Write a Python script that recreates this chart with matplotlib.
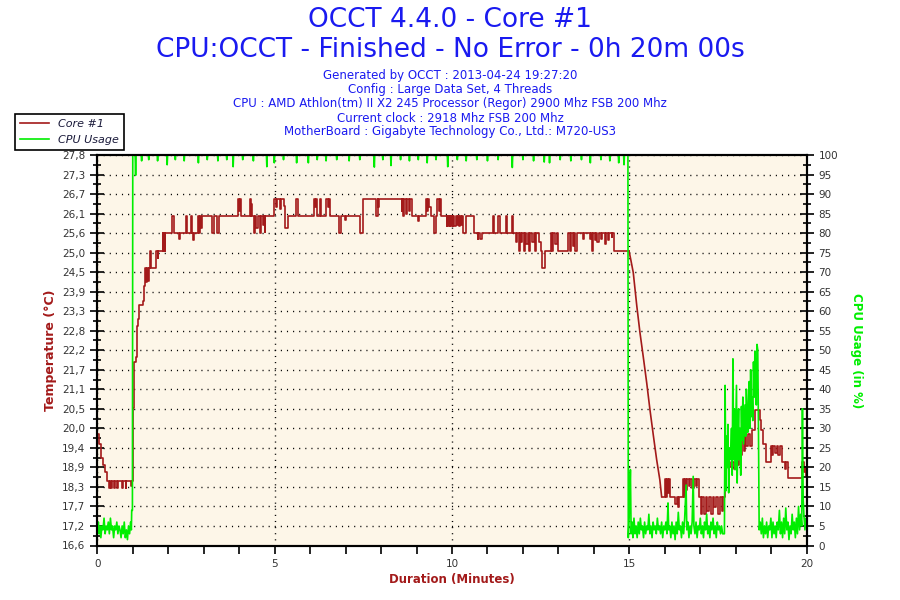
import matplotlib
matplotlib.use("Agg")
import matplotlib.pyplot as plt
from matplotlib.ticker import MultipleLocator, AutoMinorLocator
from matplotlib.lines import Line2D

### data (time in minutes)
# temperature while idle and under load (sensor steps)
temp_t = [0.00, 0.04, 0.10, 0.16, 0.22, 0.27, 0.33, 0.35, 0.40, 0.42, 0.47, 0.49, 0.55, 0.57,
          0.64, 0.70, 0.72, 0.80, 0.82, 0.90, 0.95, 0.97,
          1.01, 1.04, 1.08, 1.12, 1.15, 1.18, 1.28, 1.31, 1.35, 1.38, 1.40, 1.42, 1.45, 1.49, 1.52,
          1.66, 1.70, 1.72, 1.84, 1.86, 1.89, 1.90, 1.92, 2.10, 2.15, 2.30, 2.32, 2.49, 2.53,
          2.63, 2.66, 2.70, 2.72, 2.85, 2.88, 2.90, 2.93, 2.96, 3.23, 3.28, 3.38, 3.42,
          3.98, 4.00, 4.02, 4.06, 4.30, 4.32, 4.34, 4.37, 4.42, 4.45, 4.48, 4.52, 4.58, 4.62,
          4.66, 4.70, 4.72, 4.74, 4.98, 5.05, 5.08, 5.15, 5.18, 5.25, 5.30, 5.38, 5.60, 5.66,
          6.11, 6.14, 6.17, 6.20, 6.28, 6.32, 6.45, 6.50, 6.53, 6.56, 6.81, 6.88, 6.98, 7.00,
          7.41, 7.48, 7.86, 7.90, 7.92, 7.94, 8.58, 8.60, 8.63, 8.66, 8.70, 8.74, 8.78, 8.82,
          8.86, 9.05, 9.07, 9.26, 9.29, 9.32, 9.36, 9.40, 9.50, 9.55, 9.58, 9.62, 9.66, 9.70,
          9.85, 9.87, 9.89, 9.91, 9.93, 9.95, 9.97, 10.00, 10.02, 10.04, 10.07, 10.10, 10.13,
          10.16, 10.19, 10.22, 10.26, 10.29, 10.32, 10.40, 10.63, 10.72, 10.74, 10.80, 10.84,
          11.17, 11.19, 11.31, 11.34, 11.52, 11.55, 11.68, 11.72, 11.80, 11.84, 11.89, 11.92,
          11.95, 11.98, 12.02, 12.05, 12.10, 12.14, 12.18, 12.21, 12.26, 12.30, 12.34, 12.38,
          12.45, 12.50, 12.53, 12.63, 12.79, 12.83, 12.86, 12.90, 12.95, 13.00, 13.28, 13.32,
          13.36, 13.40, 13.44, 13.48, 13.52, 13.70, 13.73, 13.88, 13.91, 13.94, 13.98, 14.02,
          14.05, 14.10, 14.14, 14.20, 14.24, 14.30, 14.34, 14.40, 14.44, 14.50, 14.52, 14.57,
          14.99]
temp_v = [19.80, 19.50, 19.10, 18.90, 18.70, 18.45, 18.25, 18.45, 18.25, 18.45, 18.25, 18.45, 18.25, 18.45,
          18.45, 18.25, 18.45, 18.25, 18.45, 18.45, 18.30, 18.45,
          20.55, 21.85, 22.00, 22.90, 23.10, 23.50, 23.60, 24.05, 24.55, 24.15, 24.55, 24.20, 24.55, 25.05, 24.55,
          25.05, 24.85, 25.05, 25.55, 25.05, 25.55, 25.05, 25.55, 26.05, 25.55, 25.40, 25.55, 26.05, 25.55,
          26.05, 25.55, 25.35, 25.55, 26.05, 25.55, 26.05, 25.70, 26.05, 25.55, 26.05, 25.55, 26.05,
          26.55, 26.20, 26.55, 26.05, 26.55, 26.05, 26.40, 26.05, 25.55, 26.05, 25.70, 26.05, 25.55, 26.05,
          25.80, 26.05, 25.60, 26.05, 26.55, 26.30, 26.55, 26.25, 26.55, 26.35, 25.70, 26.05, 26.55, 26.05,
          26.55, 26.30, 26.55, 26.05, 26.55, 26.05, 26.55, 26.30, 26.55, 26.05, 25.55, 26.05, 25.95, 26.05,
          25.55, 26.55, 26.05, 26.55, 26.30, 26.55, 26.20, 26.55, 26.05, 26.55, 26.10, 26.55, 26.20, 26.55,
          26.05, 25.90, 26.05, 26.55, 26.20, 26.55, 26.30, 26.05, 25.55, 26.05, 26.55, 26.20, 26.55, 26.05,
          25.75, 26.05, 25.75, 26.05, 25.75, 26.05, 25.75, 26.05, 25.75, 26.05, 25.75, 26.05, 25.80,
          26.05, 25.75, 26.05, 25.80, 26.05, 25.55, 26.05, 25.55, 25.40, 25.55, 25.40, 25.55,
          26.05, 25.55, 26.05, 25.55, 26.05, 25.55, 26.05, 25.55, 25.30, 25.55, 25.05, 25.55,
          25.30, 25.55, 25.05, 25.55, 25.25, 25.55, 25.05, 25.55, 25.30, 25.55, 25.05, 25.55,
          25.30, 25.05, 24.55, 25.05, 25.55, 25.05, 25.55, 25.25, 25.55, 25.05, 25.55, 25.05,
          25.55, 25.20, 25.55, 25.05, 25.55, 25.40, 25.55, 25.40, 25.55, 25.05, 25.55, 25.35,
          25.55, 25.30, 25.55, 25.40, 25.55, 25.25, 25.55, 25.35, 25.55, 25.45, 25.55, 25.05,
          25.05]

# cooling down after the test stops
drop_t = [14.99, 15.04, 15.11, 15.21, 15.30, 15.39, 15.49, 15.58, 15.68, 15.77, 15.86, 15.91]
drop_v = [25.05, 24.80, 24.43, 23.47, 22.70, 22.03, 21.26, 20.50, 19.73, 19.06, 18.48, 18.00]

# idle again (sensor steps)
tail_t = [15.91, 16.00, 16.03, 16.06, 16.09, 16.12, 16.16, 16.30, 16.33, 16.37, 16.40, 16.50, 16.54,
          16.57, 16.60, 16.63, 16.68, 16.72, 16.78, 16.82, 16.88, 16.92, 16.97, 17.02, 17.05,
          17.10, 17.15, 17.20, 17.25, 17.30, 17.36, 17.40, 17.45, 17.50, 17.55, 17.60, 17.65,
          17.71, 17.76, 17.85, 17.90, 17.95, 18.00, 18.05, 18.10, 18.14, 18.18, 18.22, 18.26,
          18.30, 18.35, 18.40, 18.45, 18.48, 18.54, 18.68, 18.72, 18.78, 18.84, 18.98, 19.02,
          19.06, 19.10, 19.15, 19.20, 19.25, 19.31, 19.38, 19.42, 19.48, 19.86, 19.92, 19.95,
          19.98, 20.00]
tail_v = [18.00, 18.50, 18.00, 18.50, 18.10, 18.50, 18.00, 17.80, 18.00, 17.70, 18.00, 18.50, 18.00,
          18.50, 18.20, 18.50, 18.30, 18.50, 18.25, 18.50, 18.30, 18.50, 18.00, 17.50, 18.00,
          17.50, 18.00, 17.60, 18.00, 17.50, 18.00, 17.70, 18.00, 17.50, 18.00, 17.60, 18.00,
          19.45, 19.00, 18.85, 19.00, 18.80, 19.00, 18.90, 19.45, 19.20, 19.70, 19.30, 19.80,
          19.45, 19.80, 19.45, 19.90, 19.90, 20.50, 20.20, 19.90, 19.50, 19.00, 19.45, 19.20,
          19.45, 19.25, 19.45, 19.20, 19.45, 19.00, 18.80, 19.00, 18.55, 19.00, 18.70, 18.85,
          18.60, 18.60]

# CPU usage, idle start and end (percent)
cpu_start_t = [0.00, 0.03, 0.05, 0.08, 0.10, 0.13, 0.16, 0.19, 0.22, 0.25, 0.28, 0.31, 0.34, 0.37,
               0.40, 0.43, 0.46, 0.49, 0.52, 0.55, 0.58, 0.61, 0.64, 0.67, 0.70, 0.73, 0.76, 0.79,
               0.82, 0.85, 0.88, 0.91, 0.94, 0.96, 0.97, 0.99]
cpu_start_v = [4, 6, 3, 5, 2, 5, 4, 7, 3, 5, 4, 6, 3, 7, 4, 5, 2, 5, 4, 6, 3, 5, 4, 2, 5, 3, 6, 2,
               4, 1.5, 5, 3, 6, 4, 9, 9]

# load phase: 100 % with short dips
dip_t = [1.08, 1.25, 1.45, 1.70, 1.97, 2.20, 2.45, 2.85, 3.10, 3.40, 3.65, 3.83, 4.10, 4.40,
         4.78, 4.99, 5.25, 5.62, 5.95, 6.20, 6.45, 6.75, 7.10, 7.40, 7.81, 8.05, 8.28, 8.55,
         8.80, 9.05, 9.30, 9.55, 9.88, 10.15, 10.40, 10.70, 11.00, 11.30, 11.70, 12.00, 12.30,
         12.60, 12.75, 13.05, 13.35, 13.65, 13.90, 14.20, 14.45, 14.70, 14.85]
dip_v = [94.8, 98.5, 98.8, 98.5, 97.5, 98.8, 98.5, 98.0, 98.8, 98.5, 98.8, 97.0, 98.8, 98.5,
         97.0, 98.0, 98.8, 98.0, 98.0, 98.8, 98.5, 98.8, 98.5, 98.8, 96.9, 98.8, 97.3, 98.8,
         98.5, 98.8, 98.0, 98.8, 97.0, 98.8, 98.5, 98.8, 98.5, 98.8, 96.8, 98.8, 98.5,
         98.2, 98.0, 98.8, 98.5, 98.8, 98.0, 98.8, 98.5, 98.0, 97.5]

cpu_end_t = [14.97, 15.00, 15.03, 15.05, 15.08, 15.10, 15.13, 15.16, 15.19, 15.22, 15.25, 15.28,
             15.31, 15.34, 15.37, 15.40, 15.43, 15.46, 15.49, 15.52, 15.55, 15.58, 15.61, 15.64,
             15.67, 15.70, 15.73, 15.76, 15.79, 15.82, 15.85, 15.88, 15.91, 15.94, 15.97, 16.00,
             16.03, 16.06, 16.09, 16.11, 16.14, 16.17, 16.20, 16.23, 16.26, 16.29, 16.32, 16.35,
             16.38, 16.41, 16.44, 16.47, 16.50, 16.53, 16.56, 16.60, 16.62, 16.65, 16.68, 16.71,
             16.74, 16.77, 16.80, 16.82, 16.85, 16.88, 16.91, 16.94, 16.97, 17.00, 17.03, 17.06,
             17.09, 17.12, 17.15, 17.18, 17.21, 17.24, 17.27, 17.30, 17.33, 17.36, 17.39, 17.42,
             17.45, 17.48, 17.51, 17.54, 17.57, 17.60, 17.63, 17.68,
             17.70, 17.72, 17.74, 17.76, 17.78, 17.80, 17.82, 17.85, 17.88, 17.90, 17.92, 17.94,
             17.96, 17.98, 18.00, 18.02, 18.04, 18.06, 18.08, 18.10, 18.12, 18.14, 18.16, 18.18,
             18.20, 18.22, 18.24, 18.26, 18.28, 18.30, 18.32, 18.34, 18.36, 18.38, 18.40, 18.42,
             18.44, 18.46, 18.48, 18.50, 18.52, 18.54, 18.56, 18.58, 18.60, 18.62, 18.64, 18.66,
             18.69, 18.72, 18.75, 18.78, 18.81, 18.84, 18.87, 18.90, 18.93, 18.96, 18.99, 19.02,
             19.05, 19.08, 19.11, 19.14, 19.17, 19.20, 19.23, 19.26, 19.29, 19.32, 19.35, 19.38,
             19.41, 19.44, 19.47, 19.50, 19.53, 19.56, 19.59, 19.62, 19.65, 19.68, 19.71, 19.74,
             19.77, 19.80, 19.83, 19.86, 19.88, 19.90, 19.92, 19.95, 19.98, 20.00]
cpu_end_v = [2, 9, 19.4, 3, 6, 2, 7, 3, 5, 2, 6, 3,
             7, 4, 5, 2, 6, 3, 5, 4, 8, 3, 5, 2,
             6, 4, 5, 3, 7, 4, 5, 3, 6, 2, 5, 4,
             6, 3, 10.9, 4, 5, 2, 6, 3, 5, 1.5, 6, 3,
             8.5, 4, 5, 2, 6, 3, 7, 15.5, 4, 6, 2, 5,
             3, 6, 17.7, 5, 3, 6, 2, 5, 4, 7, 3, 5,
             2, 6, 4, 8, 3, 5, 2, 6, 4, 7, 3, 5,
             2, 6, 4, 5, 3, 5, 3, 3,
             41, 14, 28, 20, 31, 13.5, 25, 22, 30, 18, 47.8, 22,
             35, 19.4, 30, 41, 16, 28, 35, 22, 30, 18, 35.6, 27,
             38, 26, 31, 36, 28, 40, 33, 29, 37, 42, 30, 45,
             33, 38, 32, 47, 38, 49.8, 45, 36, 51.5, 50, 30, 4,
             6, 3, 7, 2, 5, 3, 6, 2, 5, 4, 7, 2,
             6, 3, 5, 2, 6, 4, 9, 3, 6, 2, 7, 3,
             9.6, 4, 6, 1.5, 5, 3, 8, 4, 6, 2, 7, 3,
             10, 4, 8, 5, 35, 12, 8, 4, 7, 5]

temp_ticks = ["16,6", "17,2", "17,7", "18,3", "18,9", "19,4", "20,0", "20,5", "21,1", "21,7",
              "22,2", "22,8", "23,3", "23,9", "24,5", "25,0", "25,6", "26,1", "26,7", "27,3", "27,8"]

header = ["Generated by OCCT : 2013-04-24 19:27:20",
          "Config : Large Data Set, 4 Threads",
          "CPU : AMD Athlon(tm) II X2 245 Processor (Regor) 2900 Mhz FSB 200 Mhz",
          "Current clock : 2918 Mhz FSB 200 Mhz",
          "MotherBoard : Gigabyte Technology Co., Ltd.: M720-US3"]

### build the load-phase cpu series from the dips
load_t = [1.00]
load_v = [100]
for t, v in zip(dip_t, dip_v):
    load_t += [t - 0.012, t, t + 0.012]
    load_v += [100, v, 100]
load_t.append(14.96)
load_v.append(100)
cpu_t = cpu_start_t + load_t + cpu_end_t
cpu_v = cpu_start_v + load_v + cpu_end_v

RED = "#A31A1A"
GREEN = "#00EE00"
BLUE = "#1A1AF0"
TICKC = "#333333"

fig = plt.figure(figsize=(9, 6), dpi=100)
ax = fig.add_axes([97.3 / 900, 1 - 545.5 / 600, (806.7 - 97.3) / 900, (545.5 - 155) / 600])
ax.set_facecolor("#FDF6E8")

lo, hi = 16.6, 27.8
ax.set_xlim(0, 20)
ax.set_ylim(lo, hi)
ax.set_yticks([lo + i * (hi - lo) / 20 for i in range(21)])
ax.set_yticklabels(temp_ticks)
ax.xaxis.set_major_locator(MultipleLocator(5))
ax.xaxis.set_minor_locator(MultipleLocator(1))
ax.yaxis.set_minor_locator(AutoMinorLocator(2))
ax.grid(True, which="major", color="black", linestyle=(0, (0.8, 3.6)), linewidth=1.0)

ax.plot(temp_t, temp_v, color=RED, linewidth=1.2, drawstyle="steps-post")
ax.plot(drop_t, drop_v, color=RED, linewidth=1.2)
ax.plot(tail_t, tail_v, color=RED, linewidth=1.2, drawstyle="steps-post")

ax2 = ax.twinx()
ax2.set_ylim(0, 100)
ax2.yaxis.set_major_locator(MultipleLocator(5))
ax2.yaxis.set_minor_locator(AutoMinorLocator(2))
ax2.plot(cpu_t, cpu_v, color=GREEN, linewidth=1.2)

for a in (ax, ax2):
    for s in a.spines.values():
        s.set_linewidth(1.5)
ax.tick_params(axis="y", which="major", direction="inout", length=10, width=1.2,
               labelsize=7.5, labelcolor=TICKC)
ax.tick_params(axis="y", which="minor", direction="inout", length=6, width=1.2)
ax.tick_params(axis="x", which="both", direction="out", length=6, width=1.2,
               labelsize=7.5, labelcolor=TICKC)
ax2.tick_params(axis="y", which="major", direction="inout", length=10, width=1.2,
                labelsize=7.5, labelcolor=TICKC)
ax2.tick_params(axis="y", which="minor", direction="inout", length=6, width=1.2)

ax.set_xlabel("Duration (Minutes)", color=RED, fontsize=8.5, fontweight="bold", labelpad=3)
ax.set_ylabel("Temperature (\u00b0C)", color=RED, fontsize=9, fontweight="bold", labelpad=4)
ax2.set_ylabel("CPU Usage (in %)", color=GREEN, fontsize=8.5, fontweight="bold",
               rotation=270, labelpad=18)

### header texts
fig.text(0.5, 1 - 20 / 600, "OCCT 4.4.0 - Core #1", color=BLUE, fontsize=19,
         ha="center", va="center")
fig.text(0.5, 1 - 50 / 600, "CPU:OCCT - Finished - No Error - 0h 20m 00s", color=BLUE,
         fontsize=19, ha="center", va="center")
for i, line in enumerate(header):
    fig.text(0.5, 1 - (76 + i * 14) / 600, line, color=BLUE, fontsize=8.5,
             ha="center", va="center")

### legend box
handles = [Line2D([], [], color=RED, linewidth=1.2), Line2D([], [], color=GREEN, linewidth=1.2)]
leg = fig.legend(handles, ["Core #1", "CPU Usage"], loc="upper left",
                 bbox_to_anchor=(15 / 900, 1 - 114 / 600), borderaxespad=0,
                 prop={"style": "italic", "size": 8}, fancybox=False,
                 handlelength=2.6, handletextpad=0.8, borderpad=0.45, labelspacing=0.55)
leg.get_frame().set_edgecolor("black")
leg.get_frame().set_linewidth(1.2)
leg.get_frame().set_alpha(1)
for txt in leg.get_texts():
    txt.set_color("#1A1A3A")

fig.savefig("out.png", dpi=100, facecolor="white")
